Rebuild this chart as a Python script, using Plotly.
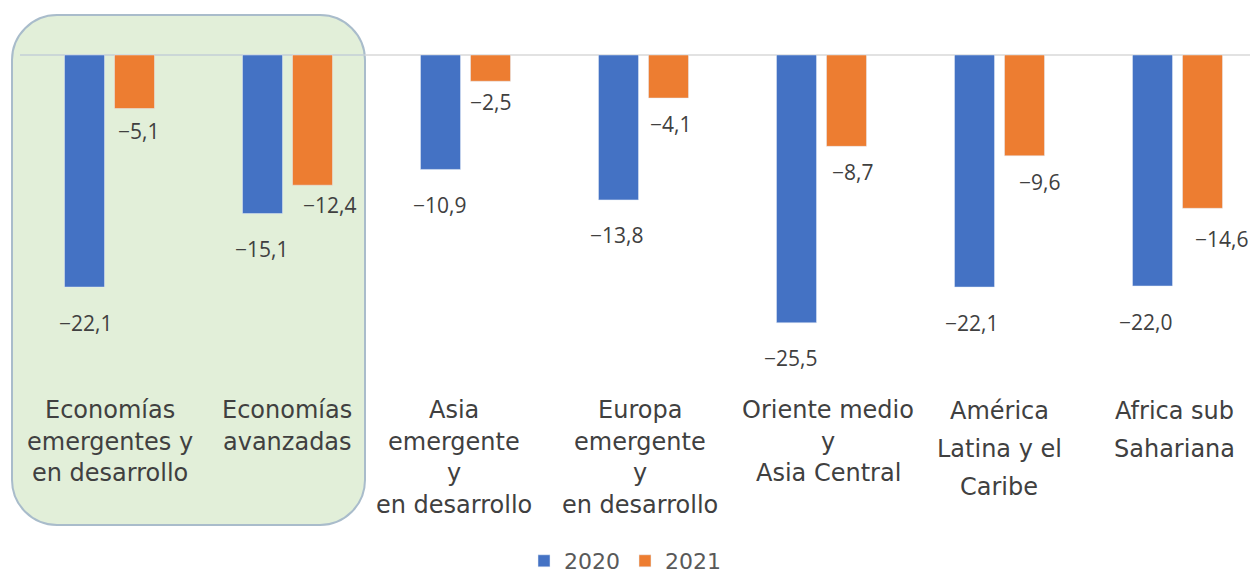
import plotly.graph_objects as go

# ---------------- data ----------------
categories = [
    "Economías<br>emergentes y<br>en desarrollo",
    "Economías<br>avanzadas",
    "Asia<br>emergente<br>y<br>en desarrollo",
    "Europa<br>emergente<br>y<br>en desarrollo",
    "Oriente medio<br>y<br>Asia Central",
    "América<br>Latina y el<br>Caribe",
    "Africa sub<br>Sahariana",
]
series_names = ["2020", "2021"]
values_2020 = [-22.1, -15.1, -10.9, -13.8, -25.5, -22.1, -22.0]
values_2021 = [-5.1, -12.4, -2.5, -4.1, -8.7, -9.6, -14.6]

# ---------------- layout helpers (pixel geometry) ----------------
W, H = 1250, 575
CAT_PX = 178.0          # px per category
CAT0_PX = 109.5         # px of first category centre
ZERO_PX = 55.0          # px of y = 0
Y_PX = 10.5             # px per unit


def dx(px):
    return (px - CAT0_PX) / CAT_PX


def dy(py):
    return (ZERO_PX - py) / Y_PX


BLUE = "#4472c4"
ORANGE = "#ed7d31"
TXT = "#404040"
NUM_FONT = "Open Sans"
LBL_FONT = "DejaVu Sans"

bar_w = 40 / CAT_PX
off_blue = -45 / CAT_PX
off_orange = 5 / CAT_PX

xs = list(range(len(categories)))

fig = go.Figure()
fig.add_trace(go.Bar(x=xs, y=values_2020, name=series_names[0], marker_color=BLUE,
                     width=bar_w, offset=off_blue, hoverinfo="y"))
fig.add_trace(go.Bar(x=xs, y=values_2021, name=series_names[1], marker_color=ORANGE,
                     width=bar_w, offset=off_orange, hoverinfo="y"))


def fmt(v):
    return f"{v:.1f}".replace(".", ",").replace("-", "\u2212")


annotations = []
# data labels
blue_xshift = [1, -1, -1, -2, -6, -3, -7]
orange_xshift = [4, 17, 0, 2, 6, 15, 19]
orange_yshift = [22, 20, 21, 26, 26, 26, 31]
for i, (a, b) in enumerate(zip(values_2020, values_2021)):
    annotations.append(dict(x=i + off_blue + bar_w / 2, y=a, text=fmt(a), showarrow=False,
                            xanchor="center", yanchor="middle", yshift=-35.5,
                            xshift=blue_xshift[i], font=dict(size=21, color=TXT, family=NUM_FONT)))
    annotations.append(dict(x=i + off_orange + bar_w / 2, y=b, text=fmt(b), showarrow=False,
                            xanchor="center", yanchor="middle", yshift=-orange_yshift[i],
                            xshift=orange_xshift[i], font=dict(size=21, color=TXT, family=NUM_FONT)))

# category labels (one annotation per line)
label_cx = [110, 287, 454, 640, 828, 999, 1174]
for i, cat in enumerate(categories):
    lines = cat.split("<br>")
    if i >= 5:
        ys = [411, 449, 487]
    else:
        ys = [410, 441.5, 473, 505]
    for j, line in enumerate(lines):
        annotations.append(dict(x=dx(label_cx[i]), y=dy(ys[j]), text=line, showarrow=False,
                                xanchor="center", yanchor="middle",
                                font=dict(size=24, color=TXT, family=LBL_FONT)))

# green rounded highlight box
L, R, T, B, r = 12, 365, 15, 525, 45
k = 0.5523 * r
path = (
    f"M {dx(L + r)},{dy(T)} L {dx(R - r)},{dy(T)} "
    f"C {dx(R - r + k)},{dy(T)} {dx(R)},{dy(T + r - k)} {dx(R)},{dy(T + r)} "
    f"L {dx(R)},{dy(B - r)} "
    f"C {dx(R)},{dy(B - r + k)} {dx(R - r + k)},{dy(B)} {dx(R - r)},{dy(B)} "
    f"L {dx(L + r)},{dy(B)} "
    f"C {dx(L + r - k)},{dy(B)} {dx(L)},{dy(B - r + k)} {dx(L)},{dy(B - r)} "
    f"L {dx(L)},{dy(T + r)} "
    f"C {dx(L)},{dy(T + r - k)} {dx(L + r - k)},{dy(T)} {dx(L + r)},{dy(T)} Z"
)
shapes = [
    dict(type="path", path=path, xref="x", yref="y", layer="below",
         fillcolor="#e2efd9", line=dict(color="#a9bccb", width=2)),
    dict(type="line", xref="x", yref="y", x0=dx(20), x1=dx(R), y0=0, y1=0,
         layer="below", line=dict(color="#c3cfd6", width=1.5)),
    dict(type="line", xref="x", yref="y", x0=dx(R), x1=dx(W), y0=0, y1=0,
         layer="below", line=dict(color="#d9d9d9", width=1.5)),
]

fig.update_layout(
    width=W, height=H,
    margin=dict(l=0, r=0, t=0, b=0, autoexpand=False),
    paper_bgcolor="white", plot_bgcolor="white",
    barmode="overlay",
    showlegend=True,
    legend=dict(orientation="h", x=0.5, xanchor="center", y=-7 / H, yanchor="bottom",
                font=dict(size=22, color="#595959", family=LBL_FONT), bgcolor="rgba(0,0,0,0)",
                itemwidth=30, traceorder="normal", borderwidth=0),
    xaxis=dict(range=[dx(0), dx(W)], visible=False, fixedrange=True),
    yaxis=dict(range=[dy(H), dy(0)], visible=False, fixedrange=True),
    annotations=annotations,
    shapes=shapes,
    font=dict(family=NUM_FONT, color=TXT),
)

post = (
    "document.documentElement.style.margin='0';"
    "document.documentElement.style.overflow='hidden';"
    "document.body.style.margin='0';document.body.style.overflow='hidden';"
    "var d=document.getElementById('{plot_id}');"
    "d.style.position='fixed';d.style.left='0px';d.style.top='0px';"
)
fig.write_html("out.html", config={"displayModeBar": False}, post_script=post)
